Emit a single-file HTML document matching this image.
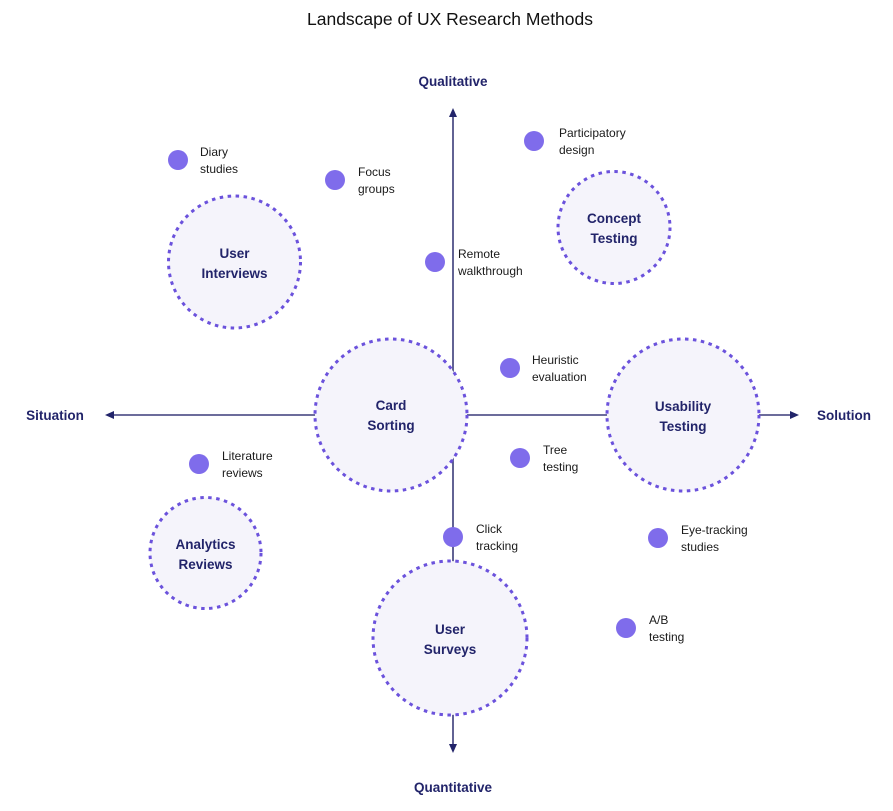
<!DOCTYPE html>
<html><head><meta charset="utf-8"><style>
html,body{margin:0;padding:0;background:#fff}
svg{display:block}
text{font-family:"Liberation Sans",Arial,sans-serif}
.t{font-size:12px;fill:#1a1a1a}
.b{font-size:13.5px;font-weight:bold;fill:#22246a}
.ax{font-size:13.5px;font-weight:bold;fill:#22246a}
</style></head><body>
<svg width="893" height="811" viewBox="0 0 893 811" xmlns="http://www.w3.org/2000/svg">
<text x="450" y="25" text-anchor="middle" style="font-size:17.5px;fill:#111">Landscape of UX Research Methods</text>
<g stroke="#3b3c7a" stroke-width="1.6" fill="none">
<line x1="453" y1="115" x2="453" y2="746"/>
<line x1="112" y1="415" x2="792" y2="415"/>
</g>
<g fill="#22246a">
<polygon points="453,108 449,117 457,117"/>
<polygon points="453,753 449,744 457,744"/>
<polygon points="105,415 114,411 114,419"/>
<polygon points="799,415 790,411 790,419"/>
</g>
<text class="ax" x="453" y="86" text-anchor="middle">Qualitative</text>
<text class="ax" x="453" y="792" text-anchor="middle">Quantitative</text>
<text class="ax" x="55" y="420" text-anchor="middle">Situation</text>
<text class="ax" x="844" y="420" text-anchor="middle">Solution</text>
<g fill="#f5f4fb" stroke="#6b52dc" stroke-width="3" stroke-dasharray="3.5 4.5">
<circle cx="391" cy="415" r="76"/>
<circle cx="683" cy="415" r="76"/>
<circle cx="450" cy="638" r="77"/>
<circle cx="234.5" cy="262" r="66"/>
<circle cx="614" cy="227.5" r="56"/>
<circle cx="205.5" cy="553" r="55.5"/>
</g>
<g text-anchor="middle">
<text class="b" x="391" y="410">Card</text><text class="b" x="391" y="430">Sorting</text>
<text class="b" x="683" y="411">Usability</text><text class="b" x="683" y="431">Testing</text>
<text class="b" x="450" y="634">User</text><text class="b" x="450" y="654">Surveys</text>
<text class="b" x="234.5" y="258">User</text><text class="b" x="234.5" y="278">Interviews</text>
<text class="b" x="614" y="223">Concept</text><text class="b" x="614" y="243">Testing</text>
<text class="b" x="205.5" y="549">Analytics</text><text class="b" x="205.5" y="569">Reviews</text>
</g>
<g fill="#7f6ceb">
<circle cx="178" cy="160" r="10"/>
<circle cx="335" cy="180" r="10"/>
<circle cx="534" cy="141" r="10"/>
<circle cx="435" cy="262" r="10"/>
<circle cx="510" cy="368" r="10"/>
<circle cx="199" cy="464" r="10"/>
<circle cx="520" cy="458" r="10"/>
<circle cx="453" cy="537" r="10"/>
<circle cx="658" cy="538" r="10"/>
<circle cx="626" cy="628" r="10"/>
</g>
<text class="t" x="200" y="156">Diary</text><text class="t" x="200" y="173">studies</text>
<text class="t" x="358" y="176">Focus</text><text class="t" x="358" y="193">groups</text>
<text class="t" x="559" y="137">Participatory</text><text class="t" x="559" y="154">design</text>
<text class="t" x="458" y="258">Remote</text><text class="t" x="458" y="275">walkthrough</text>
<text class="t" x="532" y="364">Heuristic</text><text class="t" x="532" y="381">evaluation</text>
<text class="t" x="222" y="460">Literature</text><text class="t" x="222" y="477">reviews</text>
<text class="t" x="543" y="454">Tree</text><text class="t" x="543" y="471">testing</text>
<text class="t" x="476" y="533">Click</text><text class="t" x="476" y="550">tracking</text>
<text class="t" x="681" y="534">Eye-tracking</text><text class="t" x="681" y="551">studies</text>
<text class="t" x="649" y="624">A/B</text><text class="t" x="649" y="641">testing</text>
</svg>
</body></html>
